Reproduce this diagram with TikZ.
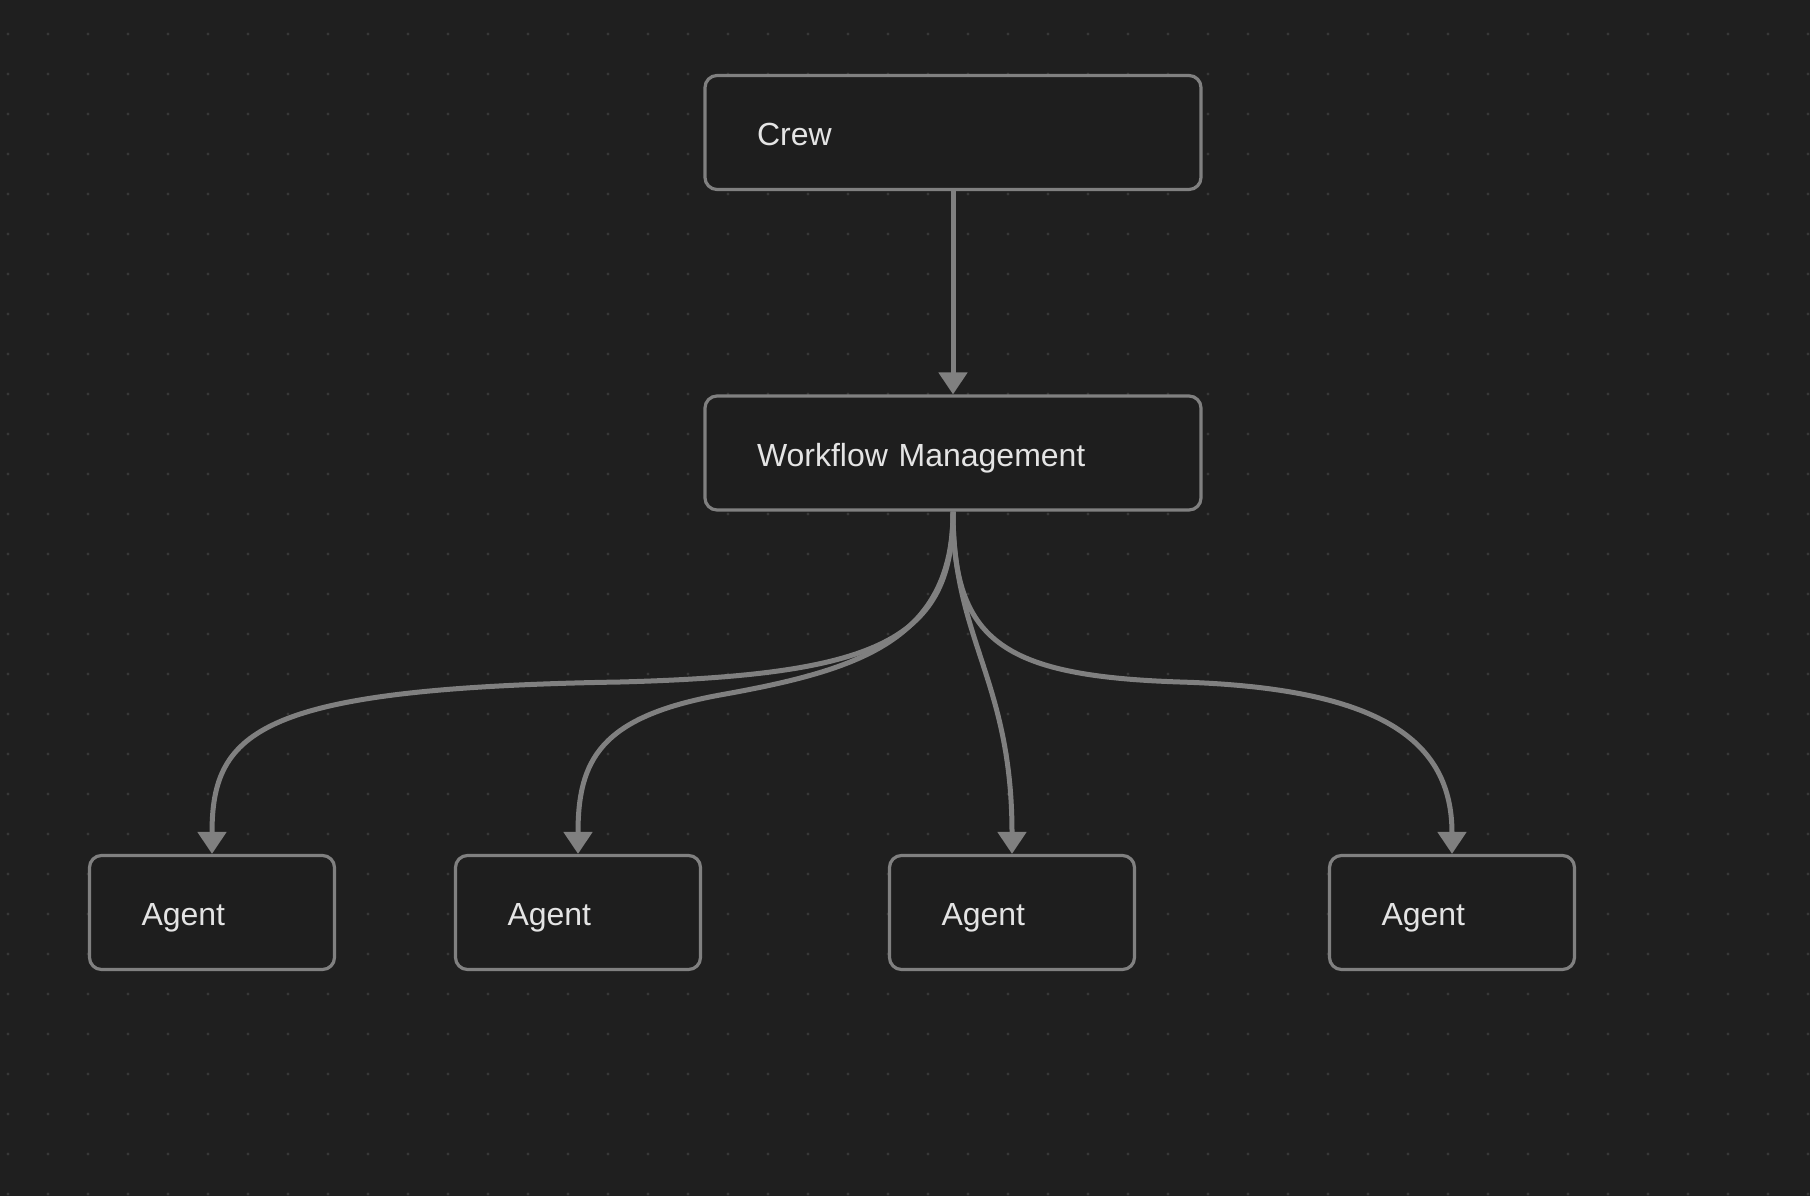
\documentclass[tikz,border=0pt]{standalone}
\usepackage{fontspec}
\setmainfont{Liberation Sans}
\usetikzlibrary{arrows.meta}
\definecolor{canvasGray}{RGB}{31,31,31}
\definecolor{boxGray}{RGB}{30,30,30}
\definecolor{dotGray}{RGB}{56,56,56}
\definecolor{strokeGray}{RGB}{128,128,128}
\definecolor{labelGray}{RGB}{228,228,228}

\begin{document}
\begin{tikzpicture}[x=1pt,y=-1pt,
  boxStyle/.style={draw=strokeGray,fill=boxGray,line width=3.2pt,
    rounded corners=12pt,minimum height=114pt,inner xsep=52pt,inner ysep=0pt,
    text height=26pt,text depth=0pt,
    text=labelGray,align=left,font=\fontsize{32}{38}\selectfont},
  wideBox/.style={boxStyle,text width=392pt},
  agentBox/.style={boxStyle,text width=141pt},
  edgeStyle/.style={draw=strokeGray,line width=5pt,
    -{Triangle[width=28pt,length=22pt]}}
]
% canvas and dot grid
\fill[canvasGray] (0,0) rectangle (1810,1196);
\useasboundingbox (0,0) rectangle (1810,1196);
\foreach \xdot in {8,48,...,1808}
  \foreach \ydot in {34,74,...,1194}
    \fill[dotGray] (\xdot,\ydot) circle (1.6pt);
%
% boxes
\node[wideBox] (crew) at (953,132.5) {Crew};
\node[wideBox] (work) at (953,453) {Workflow Management};
\node[agentBox] (agentA) at (212,912.5) {Agent};
\node[agentBox] (agentB) at (578,912.5) {Agent};
\node[agentBox] (agentC) at (1012,912.5) {Agent};
\node[agentBox] (agentD) at (1452,912.5) {Agent};
%
% connectors
\draw[edgeStyle] (crew) -- (work);
\draw[edgeStyle] (work.south) .. controls (953,640) and (880,675) .. (620,682)
  .. controls (260,688) and (212,730) .. (agentA.north);
\draw[edgeStyle] (work.south) .. controls (953,640) and (860,670) .. (720,695)
  .. controls (600,717) and (578,760) .. (agentB.north);
\draw[edgeStyle] (work.south) .. controls (953,640) and (1012,680) .. (agentC.north);
\draw[edgeStyle] (work.south) .. controls (953,640) and (1000,676) .. (1180,682)
  .. controls (1380,688) and (1452,740) .. (agentD.north);
\end{tikzpicture}
\end{document}
